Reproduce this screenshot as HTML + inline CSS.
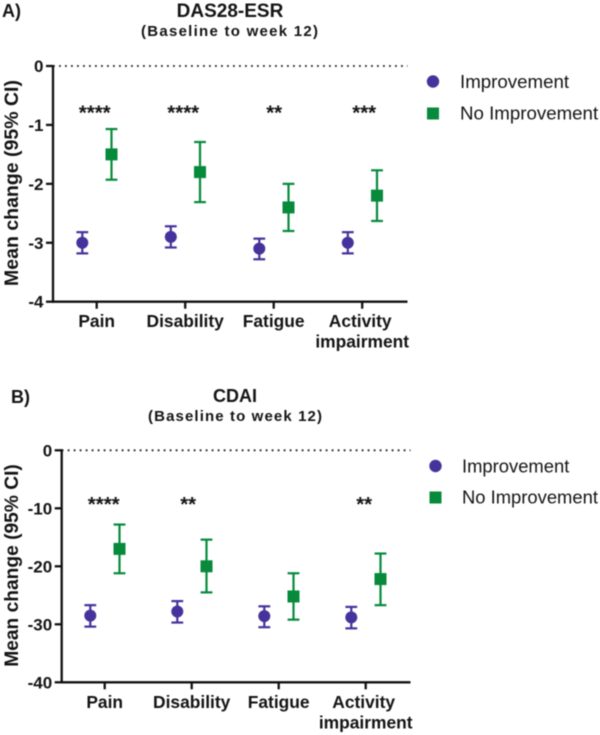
<!DOCTYPE html>
<html lang="en">
<head>
<meta charset="utf-8">
<title>Mean change from baseline to week 12</title>
<style>
html,body{margin:0;padding:0;background:#fff;width:600px;height:735px;overflow:hidden}
svg{display:block;filter:blur(0.4px)}
text{font-family:"Liberation Sans",Arial,sans-serif;fill:#141414}
.b{font-weight:bold}
</style>
</head>
<body>
<svg id="chart" width="600" height="735" viewBox="0 0 600 735" xmlns="http://www.w3.org/2000/svg">
  <text class="b" x="2" y="17" font-size="18">A)</text>
  <text class="b" x="230" y="17" font-size="19" text-anchor="middle">DAS28-ESR</text>
  <text class="b" x="141" y="36" font-size="15" textLength="177" lengthAdjust="spacing">(Baseline to week 12)</text>
  <text class="b" transform="translate(18,183) rotate(-90)" font-size="19.500" text-anchor="middle">Mean change (95% CI)</text>

  <text class="b" x="11" y="403" font-size="18">B)</text>
  <text class="b" x="235" y="402" font-size="18" text-anchor="middle">CDAI</text>
  <text class="b" x="148" y="421" font-size="15" textLength="174" lengthAdjust="spacing">(Baseline to week 12)</text>
  <text class="b" transform="translate(18,565.500) rotate(-90)" font-size="19.200" text-anchor="middle">Mean change (95% CI)</text>

  <g>
    <circle cx="433" cy="81.500" r="6.200" fill="#46329b"/>
    <text x="460" y="88" font-size="18.700">Improvement</text>
    <rect x="427" y="107.500" width="12" height="12" fill="#078a3c"/>
    <text x="460" y="119.500" font-size="18.700">No Improvement</text>
  </g>
  <g>
    <circle cx="435.500" cy="466" r="6.200" fill="#46329b"/>
    <text x="462" y="472.500" font-size="18.400">Improvement</text>
    <rect x="429.500" y="491.500" width="12" height="12" fill="#078a3c"/>
    <text x="462" y="503.500" font-size="18.400">No Improvement</text>
  </g>
</svg>
<script>
const categories = ["Pain", "Disability", "Fatigue", "Activity|impairment"];

const panelATicks = [0, -1, -2, -3, -4];
const panelASignificance = ["****", "****", "**", "***"];
const panelAImprovementMean = [-3.0, -2.9, -3.1, -3.0];
const panelAImprovementUpper = [-2.82, -2.72, -2.93, -2.82];
const panelAImprovementLower = [-3.18, -3.08, -3.28, -3.18];
const panelANoImprovementMean = [-1.5, -1.8, -2.4, -2.2];
const panelANoImprovementUpper = [-1.07, -1.29, -2.0, -1.77];
const panelANoImprovementLower = [-1.93, -2.31, -2.8, -2.63];

const panelBTicks = [0, -10, -20, -30, -40];
const panelBSignificance = ["****", "**", "", "**"];
const panelBImprovementMean = [-28.5, -27.8, -28.6, -28.8];
const panelBImprovementUpper = [-26.7, -26.0, -26.9, -27.0];
const panelBImprovementLower = [-30.4, -29.7, -30.5, -30.7];
const panelBNoImprovementMean = [-17.0, -20.0, -25.2, -22.2];
const panelBNoImprovementUpper = [-12.8, -15.4, -21.2, -17.8];
const panelBNoImprovementLower = [-21.2, -24.5, -29.2, -26.7];

const PURPLE = "#46329b";
const GREEN = "#078a3c";
const AXIS = "#111111";
const svg = document.getElementById("chart");

function make(tag, props, text) {
  const el = document.createElementNS("http://www.w3.org/2000/svg", tag);
  for (const key in props) el.setAttribute(key, props[key]);
  if (text !== undefined) el.textContent = text;
  return el;
}

function drawSeries(group, xOf, yOf, mean, upper, lower, offset, color, kind) {
  mean.forEach(function (value, i) {
    const x = xOf(i) + offset;
    const point = make("g", {});
    
    

    const stem = make("line", {x1: x, x2: x, y1: yOf(upper[i]), y2: yOf(lower[i]), stroke: color, "stroke-width": 2.2});
    
    
    point.appendChild(stem);

    const capTop = make("line", {x1: x - 5.9, x2: x + 5.9, y1: yOf(upper[i]), y2: yOf(upper[i]), stroke: color, "stroke-width": 2.2});
    
    
    point.appendChild(capTop);

    const capBottom = make("line", {x1: x - 5.9, x2: x + 5.9, y1: yOf(lower[i]), y2: yOf(lower[i]), stroke: color, "stroke-width": 2.2});
    
    
    point.appendChild(capBottom);

    let marker;
    if (kind === "improvement") {
      marker = make("circle", {cx: x, cy: yOf(value), r: 6, fill: color});
    } else {
      marker = make("rect", {x: x - 6, y: yOf(value) - 6, width: 12, height: 12, fill: color});
    }
    
    
    point.appendChild(marker);

    group.appendChild(point);
  });
}

function drawPanel(name, o, ticks, significance, impMean, impUp, impLow, noMean, noUp, noLow) {
  const yMin = ticks[ticks.length - 1];
  const yOf = function (v) { return o.top + (v / yMin) * (o.bottom - o.top); };
  const xOf = function (i) { return o.firstCat + i * o.catStep; };

  const group = make("g", {});
  
  
  svg.appendChild(group);

  const zero = make("line", {x1: o.axisX, x2: o.right, y1: yOf(0), y2: yOf(0), stroke: "#222", "stroke-width": 1.8, "stroke-dasharray": "1.8 4.2"});
  
  
  group.appendChild(zero);

  const yAxis = make("line", {x1: o.axisX, x2: o.axisX, y1: yOf(0) - 1, y2: o.bottom + 1, stroke: AXIS, "stroke-width": 2.3});
  
  
  group.appendChild(yAxis);

  const xAxis = make("line", {x1: o.axisX - 1, x2: o.right, y1: o.bottom, y2: o.bottom, stroke: AXIS, "stroke-width": 2.3});
  
  
  group.appendChild(xAxis);

  ticks.forEach(function (t) {
    const tick = make("line", {x1: o.axisX - 7, x2: o.axisX, y1: yOf(t), y2: yOf(t), stroke: AXIS, "stroke-width": 2.3});
    
    
    group.appendChild(tick);

    const label = make("text", {x: o.axisX - 9.5, y: yOf(t) + 6, "font-size": 17, "font-weight": "bold", "text-anchor": "end"}, String(t));
    
    
    group.appendChild(label);
  });

  categories.forEach(function (c, i) {
    const tick = make("line", {x1: xOf(i), x2: xOf(i), y1: o.bottom, y2: o.bottom + 7, stroke: AXIS, "stroke-width": 2.3});
    
    
    group.appendChild(tick);

    c.split("|").forEach(function (line, n) {
      const label = make("text", {x: xOf(i) - (n === 0 && i === 3 ? 2 : 0), y: o.bottom + 25.5 + n * 20.5, "font-size": 17.4, "font-weight": "bold", "text-anchor": "middle"}, line);
      
      
      group.appendChild(label);
    });
  });

  significance.forEach(function (s, i) {
    if (!s) return;
    const mark = make("text", {x: xOf(i) + o.starShift[i], y: o.starY, "font-size": 20.5, "font-weight": "bold", "text-anchor": "middle"}, s);
    
    
    group.appendChild(mark);
  });

  drawSeries(group, xOf, yOf, impMean, impUp, impLow, -14.4, PURPLE, "improvement");
  drawSeries(group, xOf, yOf, noMean, noUp, noLow, 14.8, GREEN, "no-improvement");
}

drawPanel("panel-a-plot",
  {axisX: 53, right: 407.5, top: 66, bottom: 301.7, firstCat: 96.7, catStep: 88.5, starY: 119.5, starShift: [-2, -2, 0.5, 2]},
  panelATicks, panelASignificance,
  panelAImprovementMean, panelAImprovementUpper, panelAImprovementLower,
  panelANoImprovementMean, panelANoImprovementUpper, panelANoImprovementLower);

drawPanel("panel-b-plot",
  {axisX: 61.7, right: 410.5, top: 450.3, bottom: 682.3, firstCat: 104.7, catStep: 87, starY: 511, starShift: [-1, -3.5, 0, -1.5]},
  panelBTicks, panelBSignificance,
  panelBImprovementMean, panelBImprovementUpper, panelBImprovementLower,
  panelBNoImprovementMean, panelBNoImprovementUpper, panelBNoImprovementLower);
</script>
</body>
</html>
